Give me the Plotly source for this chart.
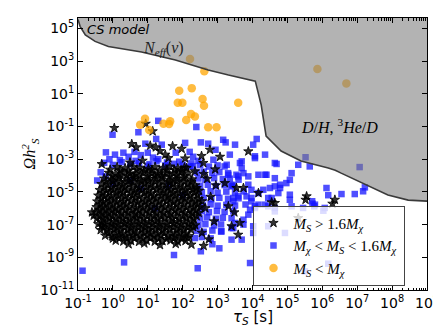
import plotly.graph_objects as go

# all positions stored as (log10 tau_S, log10 Omega h^2)
star_pts = [
    (0.12, -3.48), (0.35, -3.55), (0.58, -3.46), (0.77, -3.52), (1.02, -3.58), (1.21, -3.47), (1.44, -3.53), (1.63, -3.44), (1.86, -3.56), (2.05, -3.50),
    (-0.12, -3.83), (0.08, -3.90), (0.27, -3.81), (0.49, -3.87), (0.66, -3.92), (0.88, -3.80), (1.11, -3.86), (1.29, -3.91), (1.52, -3.84), (1.73, -3.88), (1.95, -3.79), (2.16, -3.86),
    (-0.25, -4.18), (-0.03, -4.24), (0.17, -4.15), (0.38, -4.22), (0.61, -4.17), (0.79, -4.26), (1.00, -4.19), (1.22, -4.21), (1.41, -4.14), (1.62, -4.25), (1.84, -4.20), (2.03, -4.16), (2.27, -4.23),
    (-0.33, -4.52), (-0.14, -4.58), (0.07, -4.50), (0.28, -4.57), (0.47, -4.53), (0.70, -4.60), (0.90, -4.49), (1.09, -4.56), (1.32, -4.54), (1.53, -4.59), (1.72, -4.51), (1.94, -4.57), (2.15, -4.53), (2.36, -4.60),
    (-0.38, -4.88), (-0.19, -4.93), (0.02, -4.86), (0.22, -4.92), (0.41, -4.87), (0.63, -4.95), (0.84, -4.89), (1.03, -4.91), (1.25, -4.85), (1.46, -4.94), (1.66, -4.90), (1.87, -4.88), (2.08, -4.93), (2.29, -4.87), (2.47, -4.92),
    (-0.42, -5.22), (-0.24, -5.28), (-0.05, -5.24), (0.15, -5.20), (0.35, -5.27), (0.56, -5.23), (0.75, -5.29), (0.97, -5.21), (1.17, -5.26), (1.38, -5.24), (1.59, -5.30), (1.78, -5.22), (2.00, -5.27), (2.21, -5.25), (2.42, -5.20),
    (-0.45, -5.58), (-0.28, -5.62), (-0.09, -5.56), (0.11, -5.63), (0.30, -5.59), (0.52, -5.55), (0.71, -5.64), (0.92, -5.60), (1.12, -5.57), (1.33, -5.61), (1.54, -5.58), (1.74, -5.63), (1.95, -5.56), (2.16, -5.60), (2.37, -5.62), (2.55, -5.57),
    (-0.47, -5.93), (-0.30, -5.97), (-0.12, -5.91), (0.07, -5.98), (0.26, -5.94), (0.46, -5.90), (0.67, -5.99), (0.86, -5.95), (1.07, -5.92), (1.27, -5.96), (1.48, -5.93), (1.69, -5.98), (1.89, -5.91), (2.10, -5.95), (2.31, -5.97), (2.50, -5.92),
    (-0.48, -6.27), (-0.31, -6.33), (-0.13, -6.29), (0.05, -6.26), (0.24, -6.32), (0.44, -6.28), (0.64, -6.34), (0.83, -6.30), (1.04, -6.27), (1.24, -6.31), (1.45, -6.29), (1.65, -6.33), (1.86, -6.26), (2.06, -6.30), (2.27, -6.32), (2.46, -6.28),
    (-0.46, -6.63), (-0.28, -6.68), (-0.10, -6.61), (0.09, -6.67), (0.28, -6.64), (0.48, -6.69), (0.68, -6.62), (0.88, -6.66), (1.08, -6.63), (1.28, -6.68), (1.49, -6.61), (1.70, -6.65), (1.90, -6.67), (2.11, -6.62), (2.32, -6.66),
    (-0.42, -6.97), (-0.24, -7.03), (-0.05, -6.99), (0.14, -7.02), (0.33, -6.96), (0.53, -7.04), (0.73, -6.98), (0.93, -7.01), (1.13, -6.97), (1.33, -7.03), (1.54, -7.00), (1.74, -6.96), (1.95, -7.02), (2.16, -6.98), (2.36, -7.04),
    (-0.35, -7.33), (-0.16, -7.38), (0.03, -7.31), (0.22, -7.37), (0.42, -7.34), (0.62, -7.39), (0.82, -7.32), (1.02, -7.36), (1.22, -7.33), (1.42, -7.38), (1.63, -7.31), (1.83, -7.35), (2.03, -7.37), (2.24, -7.32),
    (-0.22, -7.67), (-0.02, -7.72), (0.18, -7.68), (0.38, -7.74), (0.58, -7.69), (0.78, -7.71), (0.98, -7.66), (1.18, -7.73), (1.38, -7.68), (1.58, -7.72), (1.78, -7.70), (1.98, -7.75), (2.18, -7.69),
    (0.08, -7.98), (0.30, -8.03), (0.52, -8.00), (0.75, -8.05), (0.97, -7.99), (1.20, -8.04), (1.42, -8.01), (1.65, -7.97), (1.86, -8.05), (2.08, -8.00),
    (0.45, -8.20), (0.90, -8.15), (1.35, -8.25), (1.80, -8.18), (2.25, -8.22), (2.60, -8.30),
    # inner rows of the dense cloud
    (0.20, -3.68), (0.45, -3.71), (0.68, -3.66), (0.90, -3.70), (1.12, -3.67), (1.33, -3.72), (1.55, -3.69), (1.76, -3.65), (1.97, -3.70),
    (-0.02, -4.02), (0.18, -4.05), (0.40, -3.99), (0.58, -4.04), (0.78, -4.01), (1.00, -4.06), (1.20, -4.00), (1.41, -4.03), (1.63, -4.05), (1.84, -3.99), (2.06, -4.03),
    (-0.20, -4.37), (0.00, -4.34), (0.22, -4.39), (0.44, -4.35), (0.60, -4.40), (0.82, -4.36), (1.02, -4.33), (1.21, -4.38), (1.43, -4.36), (1.64, -4.41), (1.84, -4.34), (2.05, -4.38), (2.25, -4.36),
    (-0.25, -4.72), (-0.04, -4.75), (0.15, -4.70), (0.34, -4.74), (0.55, -4.71), (0.76, -4.76), (0.96, -4.69), (1.15, -4.73), (1.37, -4.72), (1.58, -4.75), (1.78, -4.70), (2.00, -4.74), (2.20, -4.71), (2.40, -4.76),
    (-0.30, -5.07), (-0.10, -5.04), (0.10, -5.09), (0.30, -5.05), (0.50, -5.08), (0.70, -5.03), (0.90, -5.07), (1.10, -5.10), (1.30, -5.05), (1.52, -5.08), (1.72, -5.04), (1.92, -5.09), (2.12, -5.06), (2.33, -5.05),
    (-0.33, -5.42), (-0.15, -5.39), (0.05, -5.44), (0.24, -5.40), (0.43, -5.43), (0.64, -5.38), (0.84, -5.42), (1.03, -5.45), (1.24, -5.40), (1.44, -5.43), (1.65, -5.39), (1.85, -5.44), (2.06, -5.41), (2.27, -5.40), (2.46, -5.43),
    (-0.36, -5.77), (-0.19, -5.74), (0.00, -5.79), (0.20, -5.75), (0.38, -5.78), (0.60, -5.73), (0.80, -5.77), (1.00, -5.80), (1.20, -5.75), (1.40, -5.78), (1.62, -5.74), (1.82, -5.79), (2.03, -5.76), (2.24, -5.75), (2.42, -5.78),
    (-0.38, -6.12), (-0.20, -6.09), (-0.02, -6.14), (0.16, -6.10), (0.36, -6.13), (0.55, -6.08), (0.75, -6.12), (0.96, -6.15), (1.16, -6.10), (1.37, -6.13), (1.57, -6.09), (1.78, -6.14), (1.98, -6.11), (2.19, -6.10), (2.38, -6.13),
    (-0.37, -6.47), (-0.20, -6.44), (-0.01, -6.49), (0.18, -6.45), (0.38, -6.48), (0.58, -6.43), (0.78, -6.47), (0.98, -6.50), (1.18, -6.45), (1.38, -6.48), (1.60, -6.44), (1.80, -6.49), (2.00, -6.46), (2.21, -6.45), (2.40, -6.48),
    (-0.33, -6.82), (-0.15, -6.79), (0.04, -6.84), (0.23, -6.80), (0.43, -6.83), (0.63, -6.78), (0.83, -6.82), (1.03, -6.85), (1.23, -6.80), (1.43, -6.83), (1.64, -6.79), (1.84, -6.84), (2.05, -6.81), (2.26, -6.80),
    (-0.26, -7.17), (-0.07, -7.14), (0.12, -7.19), (0.32, -7.15), (0.52, -7.18), (0.72, -7.13), (0.92, -7.17), (1.12, -7.20), (1.32, -7.15), (1.52, -7.18), (1.73, -7.14), (1.93, -7.19), (2.13, -7.16), (2.30, -7.15),
    (-0.12, -7.52), (0.08, -7.49), (0.28, -7.54), (0.48, -7.50), (0.68, -7.53), (0.88, -7.48), (1.08, -7.52), (1.28, -7.55), (1.48, -7.50), (1.68, -7.53), (1.88, -7.49), (2.08, -7.54),
    (0.00, -7.85), (0.20, -7.82), (0.40, -7.87), (0.62, -7.83), (0.85, -7.86), (1.08, -7.81), (1.30, -7.85), (1.53, -7.88), (1.75, -7.83), (1.97, -7.86), (2.15, -7.82),
    # scattered outside the cloud
    (0.04, -1.09), (0.94, -0.83), (1.14, -1.29), (0.54, -2.07), (0.67, -2.27), (1.07, -2.17), (1.23, -2.27), (1.35, -2.50), (1.50, -2.72), (1.71, -2.20),
    (1.97, -2.36), (1.59, -2.93), (2.07, -2.95), (2.78, -2.42), (2.54, -2.80), (2.59, -3.23), (3.07, -2.85), (2.93, -3.62), (-0.32, -3.30), (0.49, -3.20),
    (0.85, -3.09), (-0.08, -3.64), (2.11, -3.54), (2.35, -3.74), (-0.60, -6.25), (-0.55, -6.45), (-0.32, -7.10), (3.88, -2.52), (3.54, -4.76), (3.74, -4.76),
    (4.17, -5.07), (3.21, -4.46), (4.64, -5.68), (5.55, -5.27), (5.52, -5.48), (6.36, -5.48), (6.29, -5.72), (4.55, -5.64), (3.48, -6.25), (3.64, -6.90),
    (3.59, -7.62), (3.40, -7.10), (3.31, -5.88), (5.31, -6.60), (2.70, -4.20), (2.80, -5.30), (2.65, -6.00), (2.90, -6.80), (2.55, -7.50), (2.75, -7.90),
    (2.60, -3.90), (2.95, -4.60),
]

square_pts = [
    (1.30, -0.65), (2.39, -1.03), (-0.01, -1.50), (0.73, -1.35), (0.93, -2.05), (1.24, -1.76), (1.40, -2.11), (2.07, -2.00), (2.52, -1.97), (2.73, -2.05),
    (3.23, -1.97), (-0.20, -2.58), (0.06, -2.72), (0.30, -2.60), (0.45, -2.85), (0.62, -2.55), (0.80, -2.75), (1.00, -2.60), (1.15, -2.90), (1.30, -3.00),
    (1.80, -2.60), (2.20, -2.55), (2.30, -2.85), (2.45, -3.10), (0.20, -3.05), (-0.10, -3.00), (0.65, -3.10), (1.05, -3.30), (1.55, -3.20), (1.90, -3.15),
    (2.25, -3.25),
    (-0.25, -3.22), (0.00, -3.35), (0.25, -3.18), (0.50, -3.30), (0.75, -3.25), (1.00, -3.40), (1.25, -3.12), (1.50, -3.38), (1.75, -3.28), (2.00, -3.33),
    (2.20, -3.45), (-0.35, -3.80), (-0.45, -4.30), (-0.21, -4.05),
    (2.30, -3.42), (2.50, -3.36), (2.75, -3.45), (3.00, -3.38), (3.20, -3.44),
    (2.40, -3.82), (2.60, -3.76), (2.85, -3.84), (3.05, -3.79), (3.30, -3.85),
    (2.45, -4.18), (2.65, -4.24), (2.90, -4.16), (3.15, -4.22), (3.35, -4.19), (3.60, -4.25),
    (2.50, -4.62), (2.72, -4.56), (2.95, -4.64), (3.20, -4.58), (3.45, -4.61),
    (2.55, -5.02), (2.80, -4.96), (3.00, -5.05), (3.25, -4.98), (3.50, -5.03), (3.75, -4.97),
    (2.60, -5.38), (2.82, -5.44), (3.05, -5.36), (3.30, -5.42), (3.60, -5.39),
    (2.58, -5.82), (2.80, -5.76), (3.00, -5.84), (3.25, -5.79), (3.50, -5.83), (3.80, -5.77),
    (2.55, -6.18), (2.75, -6.24), (2.98, -6.17), (3.20, -6.22), (3.45, -6.19),
    (2.50, -6.62), (2.70, -6.56), (2.95, -6.64), (3.15, -6.58), (3.40, -6.61),
    (2.45, -7.02), (2.65, -6.97), (2.90, -7.05), (3.10, -6.99),
    (2.40, -7.38), (2.60, -7.44), (2.85, -7.36), (3.10, -7.42),
    (2.35, -7.82), (2.55, -7.76), (2.80, -7.84),
    (3.16, -1.81), (3.50, -2.11), (4.02, -2.11), (4.12, -1.76), (2.94, -2.42), (2.88, -3.03), (3.26, -3.34), (3.69, -3.13), (3.69, -3.54), (4.07, -2.82),
    (4.36, -2.72), (4.64, -3.23), (5.31, -3.34), (5.64, -3.44), (5.52, -2.88), (5.12, -3.85), (4.40, -3.95), (4.17, -3.95), (3.88, -4.05), (3.59, -4.05),
    (3.31, -3.95), (4.64, -4.16), (5.07, -4.26), (4.79, -4.56), (4.64, -4.66), (4.50, -4.76), (4.31, -4.87), (3.97, -4.87), (3.40, -4.66), (5.07, -5.17),
    (5.07, -5.48), (4.74, -5.07), (4.55, -5.37), (5.79, -5.78), (6.07, -5.98), (6.12, -4.76), (6.55, -5.13), (6.93, -5.13), (4.64, -5.98), (4.07, -5.98),
    (4.36, -5.78), (3.83, -5.27), (3.59, -5.27), (3.97, -5.37), (7.07, -3.48), (6.17, -5.20), (7.17, -4.96), (7.22, -4.72), (5.71, -5.57), (5.77, -5.88),
    (6.03, -6.15), (5.12, -5.88), (5.45, -5.98), (5.72, -5.72), (4.79, -4.76), (4.45, -5.37), (4.17, -5.78), (3.93, -6.09), (3.74, -7.00), (3.69, -7.92),
    (3.40, -7.92), (3.45, -7.21), (3.35, -2.72), (3.64, -3.23), (4.07, -2.93), (4.69, -3.29), (4.36, -3.95), (3.74, -3.85), (3.54, -3.95), (4.97, -4.46),
    (3.40, -4.56), (3.88, -4.56), (4.17, -5.07), (3.45, -5.37), (3.45, -5.58), (3.97, -5.58), (4.07, -5.88), (4.45, -5.88), (4.64, -6.19), (3.88, -6.39),
    (3.74, -6.70), (3.50, -6.90), (3.40, -7.21), (4.02, -7.10), (4.02, -7.51), (3.11, -7.41), (4.45, -7.10), (4.93, -7.51),
    (-0.87, -9.82), (0.32, -9.31), (1.75, -8.86), (2.43, -9.67), (2.52, -8.63), (2.85, -8.20), (3.93, -9.35), (6.17, -9.39), (5.50, -9.86), (3.05, -8.45),
    (0.50, -4.30), (0.80, -4.80), (1.60, -4.60), (2.00, -5.20), (0.00, -4.50), (1.20, -6.00),
]

circle_pts = [
    (2.21, 3.13), (2.62, 2.38), (1.90, 1.19), (2.26, 1.35), (1.86, 0.46), (1.99, 0.46), (2.57, 0.68), (2.61, 0.27),
    (0.92, -0.52), (0.78, -0.89), (1.04, -1.21), (1.45, -0.83), (1.64, -0.68), (1.61, -0.85), (2.10, -0.60), (2.24, -0.24),
    (2.35, -0.38), (2.73, -1.05), (2.97, -1.05), (3.59, 0.46), (5.86, 2.52), (6.69, 1.64),
]

# excluded-region boundary (Neff at short lifetimes, D/H and 3He/D at long)
bound_pts = [
    (-1.0, 5.55), (-0.94, 5.13), (-0.79, 4.61), (-0.51, 4.21), (-0.13, 3.90), (0.82, 3.56), (1.79, 3.07), (2.73, 2.46),
    (3.31, 2.15), (4.08, 1.78), (4.25, 0.31), (4.39, -1.58), (4.82, -2.50), (5.39, -3.11), (6.17, -3.54), (6.37, -3.67),
    (6.54, -3.85), (7.31, -4.64), (7.88, -5.19), (8.46, -5.50), (9.0, -5.56),
]

x_ticks = [-1, 0, 1, 2, 3, 4, 5, 6, 7, 8, 9]
y_ticks = [-11, -9, -7, -5, -3, -1, 1, 3, 5]


def unlog(pts):
    return [10 ** a for a, b in pts], [10 ** b for a, b in pts]


fig = go.Figure()

sx, sy = unlog(square_pts)
fig.add_trace(go.Scatter(x=sx, y=sy, mode='markers', legendrank=2,
                         name='<i>M<sub>χ</sub></i> < <i>M<sub>S</sub></i> < 1.6<i>M<sub>χ</sub></i>',
                         marker=dict(symbol='square', size=6.5, color='rgba(20,20,255,0.75)',
                                     line=dict(width=0))))
kx, ky = unlog(star_pts)
fig.add_trace(go.Scatter(x=kx, y=ky, mode='markers', legendrank=1,
                         name='<i>M<sub>S</sub></i> > 1.6<i>M<sub>χ</sub></i>',
                         marker=dict(symbol='star', size=7, color='rgba(0,0,0,0.8)',
                                     line=dict(width=1, color='rgba(0,0,0,0.8)'))))
cx, cy = unlog(circle_pts)
fig.add_trace(go.Scatter(x=cx, y=cy, mode='markers', legendrank=3,
                         name='<i>M<sub>S</sub></i> < <i>M<sub>χ</sub></i>',
                         marker=dict(symbol='circle', size=8.5, color='rgba(255,165,0,0.75)',
                                     line=dict(width=0))))

bx, by = unlog(bound_pts)
fig.add_trace(go.Scatter(x=bx + [1e9, 1e-1], y=by + [1e7, 1e7], mode='lines', fill='toself',
                         fillcolor='rgba(128,128,128,0.6)', line=dict(width=0), hoverinfo='skip',
                         showlegend=False))
fig.add_trace(go.Scatter(x=bx, y=by, mode='lines', line=dict(color='#3a3a3a', width=1.6),
                         hoverinfo='skip', showlegend=False))

fig.add_annotation(x=-0.8, y=4.92, xref='x', yref='y', text='<i>CS model</i>', showarrow=False,
                   xanchor='left', font=dict(family='DejaVu Sans', size=13, color='black'))
fig.add_annotation(x=1.45, y=3.8, xref='x', yref='y', text='<i>N<sub>eff</sub></i>(<i>ν</i>)',
                   showarrow=False, font=dict(family='Liberation Serif', size=16, color='#222'))
fig.add_annotation(x=6.5, y=-0.97, xref='x', yref='y',
                   text='<i>D</i>/<i>H</i>, <sup>3</sup><i>He</i>/<i>D</i>',
                   showarrow=False, font=dict(family='Liberation Serif', size=16, color='black'))
# x-axis title placed as a note so it can sit as close to the ticks as in the original
fig.add_annotation(x=0.5, y=-0.1, xref='paper', yref='paper', text='<i>τ<sub>S</sub></i> [s]',
                   showarrow=False, yanchor='middle',
                   font=dict(family='DejaVu Sans', size=15, color='black'))

axis_common = dict(type='log', showgrid=False, zeroline=False, showline=True, linecolor='black',
                   linewidth=1, mirror='ticks', ticks='inside', ticklen=5, tickcolor='black',
                   tickfont=dict(family='DejaVu Sans', size=14, color='black'), tickmode='array')

fig.update_layout(
    width=441, height=331,
    margin=dict(l=70, r=22, t=10, b=49),
    paper_bgcolor='white', plot_bgcolor='white',
    xaxis=dict(axis_common, range=[-1, 9], tickvals=[10 ** t for t in x_ticks],
               ticktext=['10<sup>%d</sup>' % t for t in x_ticks],
               minor=dict(ticks='inside', ticklen=2.5, tickcolor='black', tickmode='array',
                          tickvals=[k * 10 ** d for d in x_ticks[:-1] for k in range(2, 10)])),
    yaxis=dict(axis_common, range=[-11, 5.64], tickvals=[10 ** t for t in y_ticks],
               ticktext=['10<sup>%d</sup>' % t for t in y_ticks],
               title=dict(text='<i>Ωh<sup>2</sup><sub>S</sub></i>', standoff=0,
                          font=dict(family='Liberation Serif', size=16, color='black'))),
    legend=dict(x=0.5, y=0.31, xanchor='left', yanchor='top',
                bgcolor='rgba(255,255,255,0.8)', bordercolor='#444', borderwidth=1,
                font=dict(family='Liberation Serif', size=15, color='black'),
                itemsizing='trace', tracegroupgap=0),
    showlegend=True,
)

fig.write_html("out.html")
